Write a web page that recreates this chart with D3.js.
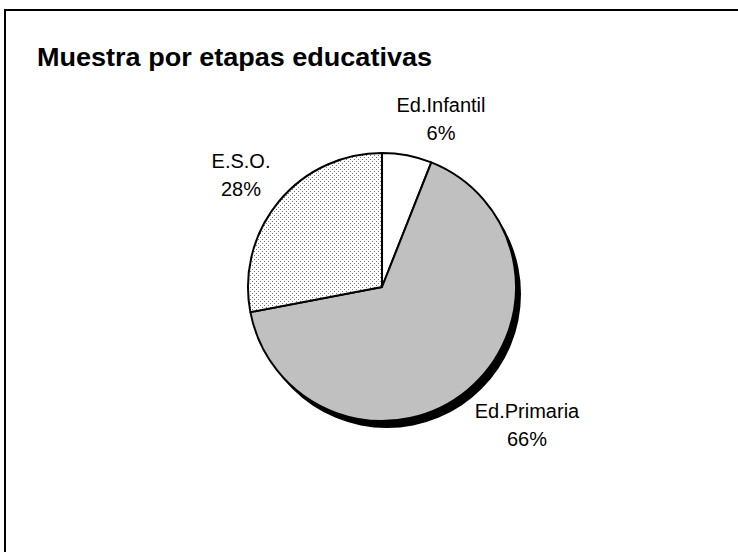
<!DOCTYPE html>
<html>
<head>
<meta charset="utf-8">
<script src="https://d3js.org/d3.v7.min.js"></script>
<style>
  body { margin: 0; background: #fff; }
  text { font-family: "Liberation Sans", Arial, sans-serif; fill: #000; }
</style>
</head>
<body>
<svg id="chart" width="738" height="552"></svg>
<script>
// data
var labels = ["Ed.Infantil", "Ed.Primaria", "E.S.O."];
var values = [6, 66, 28];
var fills = ["#ffffff", "#c0c0c0", "url(#dots)"];
// label anchor points (centre of the two text lines)
var labelPos = [[441, 112], [527, 418], [241, 168]];

var svg = d3.select("#chart");
var W = 738, H = 552;
var cx = 382, cy = 287, r = 134;

// dotted pattern for E.S.O.
var defs = svg.append("defs");
var pat = defs.append("pattern")
    .attr("id", "dots")
    .attr("patternUnits", "userSpaceOnUse")
    .attr("width", 4).attr("height", 4);
pat.append("rect").attr("width", 4).attr("height", 4).attr("fill", "#fff");
pat.append("rect").attr("x", 0).attr("y", 0).attr("width", 1).attr("height", 1).attr("fill", "#777");
pat.append("rect").attr("x", 2).attr("y", 2).attr("width", 1).attr("height", 1).attr("fill", "#777");

// outer frame (only top and left edges fall inside the window)
svg.append("rect")
    .attr("x", 5).attr("y", 10)
    .attr("width", W + 20).attr("height", H + 20)
    .attr("fill", "#fff").attr("stroke", "#000").attr("stroke-width", 2);

// title
svg.append("text")
    .attr("x", 37).attr("y", 66)
    .attr("font-size", 26)
    .attr("font-weight", "bold")
    .attr("textLength", 395)
    .attr("lengthAdjust", "spacingAndGlyphs")
    .text("Muestra por etapas educativas");

var pie = d3.pie().sort(null).value(function(d) { return d; });
var arcs = pie(values);
var arc = d3.arc().innerRadius(0).outerRadius(r);

// shadow
svg.append("circle")
    .attr("cx", cx + 5).attr("cy", cy + 7).attr("r", r)
    .attr("fill", "#000");

var g = svg.append("g").attr("transform", "translate(" + cx + "," + cy + ")");
g.selectAll("path").data(arcs).enter().append("path")
    .attr("d", arc)
    .attr("fill", function(d, i) { return fills[i]; })
    .attr("stroke", "#000")
    .attr("stroke-width", 2)
    .attr("stroke-linejoin", "round");

// labels
var total = d3.sum(values);
arcs.forEach(function(d, i) {
    var t = svg.append("text")
        .attr("text-anchor", "middle")
        .attr("font-size", 20);
    t.append("tspan").attr("x", labelPos[i][0]).attr("y", labelPos[i][1]).text(labels[i]);
    t.append("tspan").attr("x", labelPos[i][0]).attr("y", labelPos[i][1] + 28)
        .text(Math.round(values[i] / total * 100) + "%");
});
</script>
</body>
</html>
